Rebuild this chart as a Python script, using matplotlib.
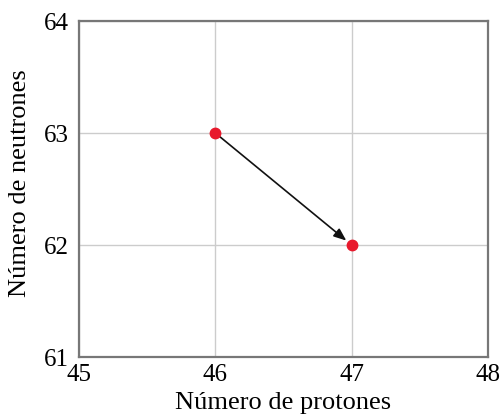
import matplotlib
matplotlib.use("Agg")
import matplotlib.pyplot as plt

protones = [46, 47]
neutrones = [63, 62]
xticks = [45, 46, 47, 48]
yticks = [61, 62, 63, 64]

plt.rcParams['font.family'] = ['Liberation Serif', 'DejaVu Serif']

fig = plt.figure(figsize=(5.01, 4.18), dpi=100)
ax = fig.add_axes([79/501, 1-357/418, (488-79)/501, (357-21)/418])
ax.set_xlim(45, 48)
ax.set_ylim(61, 64)
ax.set_xticks(xticks)
ax.set_yticks(yticks)
ax.tick_params(axis='both', length=0, labelsize=18)
ax.tick_params(axis='x', pad=5)
ax.tick_params(axis='y', pad=7)
ax.grid(True, color='#cccccc', linewidth=1)
ax.set_axisbelow(True)
for s in ax.spines.values():
    s.set_color('#777777')
    s.set_linewidth(1.6)

ax.annotate('', xy=(protones[1], neutrones[1]), xytext=(protones[0], neutrones[0]),
            arrowprops=dict(arrowstyle='-|>,head_length=0.75,head_width=0.3', color='#111111',
                            lw=1.2, shrinkA=0, shrinkB=5))
ax.plot(protones, neutrones, 'o', color='#e8192c', markersize=7.5, zorder=3)

ax.set_xlabel('Número de protones', fontsize=19, labelpad=4)
ax.set_ylabel('Número de neutrones', fontsize=19)
ax.yaxis.set_label_coords(-48/409, (357-183)/336)

fig.savefig('out.png', dpi=100)
